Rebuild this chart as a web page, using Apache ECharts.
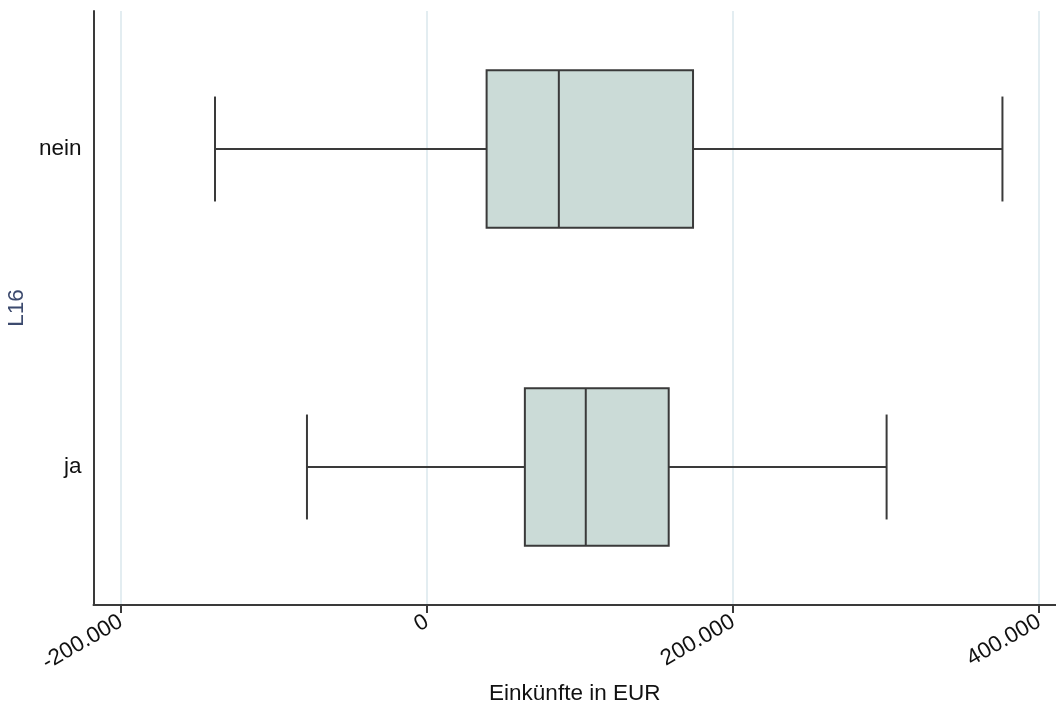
<!DOCTYPE html>
<html>
<head>
<meta charset="utf-8">
<script src="https://cdn.jsdelivr.net/npm/echarts@6/dist/echarts.min.js"></script>
<style>html,body{margin:0;padding:0;background:#fff}#c{width:1056px;height:710px}</style>
</head>
<body>
<div id="c"></div>
<script>
var categories = ['ja', 'nein'];
var lowWhisker = [-78500, -138600];
var q1 = [63900, 38900];
var median = [103700, 86100];
var q3 = [157900, 173800];
var highWhisker = [300300, 376000];
var xTicks = [-200000, 0, 200000, 400000];

var data = categories.map(function (c, i) {
  return [i, lowWhisker[i], q1[i], median[i], q3[i], highWhisker[i]];
});

var chart = echarts.init(document.getElementById('c'));
var lineColor = '#3a3a3a';
var font = 'Liberation Sans';
var fs = 22.5;
chart.setOption({
  animation: false,
  grid: {left: 93.5, right: 0, top: 11, bottom: 105, containLabel: false, outerBoundsMode: 'none'},
  xAxis: {
    type: 'value', min: -218000, max: 411000,
    name: 'Einkünfte in EUR', nameLocation: 'middle', nameGap: 77,
    nameTextStyle: {fontFamily: font, fontSize: fs, color: '#111'},
    axisLine: {show: true, onZero: false, lineStyle: {color: lineColor, width: 2}},
    axisTick: {show: true, customValues: xTicks, length: 8, lineStyle: {color: lineColor, width: 2}},
    axisLabel: {customValues: xTicks, rotate: 30, margin: 15, fontFamily: font, fontSize: fs, color: '#111',
      formatter: function (v) {
        var s = Math.abs(v).toString().replace(/\B(?=(\d{3})+(?!\d))/g, '.');
        return (v < 0 ? '-' : '') + s;
      }},
    splitLine: {show: true, customValues: xTicks, lineStyle: {color: '#e3edf1', width: 2}}
  },
  yAxis: {
    type: 'value', min: -0.434, max: 1.434,
    name: 'L16', nameLocation: 'middle', nameGap: 61, nameRotate: 90,
    nameTextStyle: {fontFamily: font, fontSize: fs, color: '#3c4a6e'},
    axisLine: {show: true, onZero: false, lineStyle: {color: lineColor, width: 2}},
    axisTick: {show: false},
    splitLine: {show: false},
    axisLabel: {customValues: [0, 1], margin: 12, fontFamily: font, fontSize: fs, color: '#111',
      formatter: function (v) { return categories[Math.round(v)]; }}
  },
  series: [{
    type: 'custom',
    data: data,
    encode: {x: [1, 2, 3, 4, 5], y: 0},
    renderItem: function (params, api) {
      var cat = api.value(0);
      var lo = api.coord([api.value(1), cat]);
      var a = api.coord([api.value(2), cat]);
      var m = api.coord([api.value(3), cat]);
      var b = api.coord([api.value(4), cat]);
      var hi = api.coord([api.value(5), cat]);
      var hBox = api.size([0, 0.496])[1] / 2;
      var hCap = api.size([0, 0.33])[1] / 2;
      var y = lo[1];
      var ls = {stroke: lineColor, lineWidth: 2};
      return {
        type: 'group',
        children: [
          {type: 'line', shape: {x1: lo[0], y1: y, x2: a[0], y2: y}, style: ls},
          {type: 'line', shape: {x1: b[0], y1: y, x2: hi[0], y2: y}, style: ls},
          {type: 'line', shape: {x1: lo[0], y1: y - hCap, x2: lo[0], y2: y + hCap}, style: ls},
          {type: 'line', shape: {x1: hi[0], y1: y - hCap, x2: hi[0], y2: y + hCap}, style: ls},
          {type: 'rect', shape: {x: a[0], y: y - hBox, width: b[0] - a[0], height: 2 * hBox},
            style: {fill: '#cbdbd7', stroke: lineColor, lineWidth: 2}},
          {type: 'line', shape: {x1: m[0], y1: y - hBox, x2: m[0], y2: y + hBox}, style: ls}
        ]
      };
    }
  }]
});
</script>
</body>
</html>
